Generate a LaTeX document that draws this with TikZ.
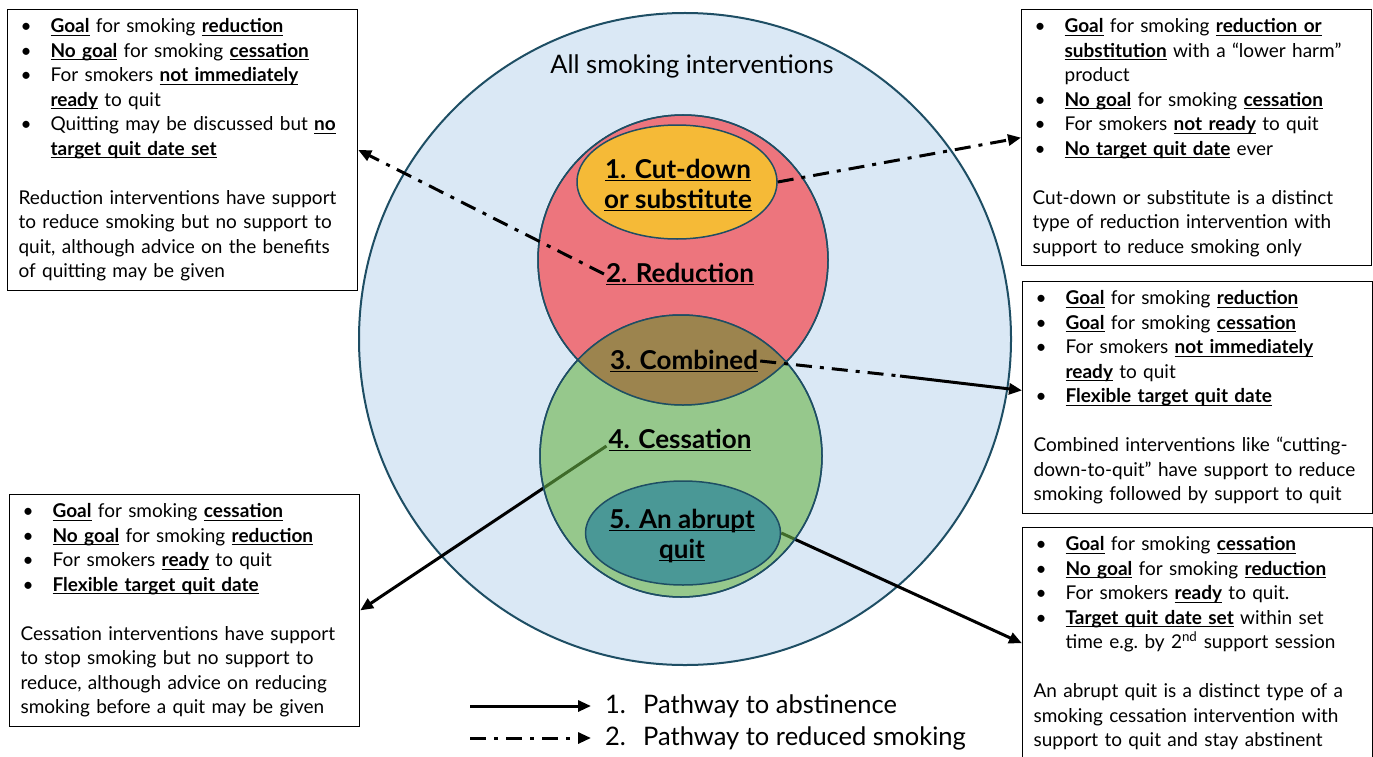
\documentclass[tikz,border=0pt]{standalone}
\usepackage{fontspec}
\setmainfont{Lato}
\usepackage{tikz}
\usetikzlibrary{arrows.meta,shapes.geometric}

\definecolor{allblue}{RGB}{218,232,245}
\definecolor{ringline}{RGB}{30,78,100}
\definecolor{redfill}{RGB}{237,117,125}
\definecolor{cutfill}{RGB}{245,186,55}
\definecolor{cessfill}{RGB}{105,179,70}
\definecolor{combfill}{RGB}{156,132,78}
\definecolor{quitfill}{RGB}{74,152,150}

\newsavebox{\keybox}
\newcommand{\keyline}[1]{\sbox\keybox{#1}\rlap{\rule[-3bp]{\wd\keybox}{1.2bp}}\usebox\keybox}
\newcommand{\key}[1]{\keyline{\bfseries #1}}
\newcommand{\boxfont}{\fontsize{19bp}{24.5bp}\selectfont}
\newcommand{\ringfont}{\fontsize{26bp}{30bp}\selectfont\bfseries}
\newcommand{\legfont}{\fontsize{25.5bp}{30bp}\selectfont}
\newcommand{\bul}{\makebox[32bp][l]{\hspace{2bp}\textbullet}}
\newcommand{\cont}{\hspace*{32bp}}

\pgfdeclarelayer{back}
\pgfdeclarelayer{under}
\pgfsetlayers{back,under,main}

\begin{document}
\begin{tikzpicture}[
    x=1bp, y=-1bp,
    ring/.style={circle, draw=ringline, line width=1.5bp, inner sep=0pt},
    blob/.style={ellipse, draw=ringline, line width=1.5bp, inner sep=0pt},
    tag/.style={font=\ringfont, inner sep=2bp, align=center},
    infobox/.style={draw, line width=1.2bp, fill=white, anchor=north west,
        align=left, inner xsep=11bp, inner ysep=9bp, font=\boxfont, text width=328bp},
    solidpath/.style={line width=3bp},
    dashpath/.style={solidpath, dash pattern=on 16bp off 8bp on 4bp off 8bp},
    tip/.style={-{Triangle[length=13bp, width=11bp]}},
    legtext/.style={anchor=west, font=\legfont, inner sep=0pt}
  ]
  \useasboundingbox (0,0) rectangle (1373,756);

  % Circles
  \begin{pgfonlayer}{back}
    \node[ring, fill=allblue, minimum size=652bp, line width=2bp] (allc) at (685,339) {};
    \node[ring, fill=redfill, minimum size=290bp] (redc) at (683,260) {};
  \end{pgfonlayer}
  \node[ring, fill=cessfill, fill opacity=0.6, minimum size=282bp] (cessc) at (681,456) {};

  % Overlap of reduction and cessation
  \begin{scope}
    \clip (cessc.center) circle[radius=141bp];
    \fill[combfill] (redc.center) circle[radius=145bp];
  \end{scope}
  \draw[ringline, line width=1.5bp] (redc.center) circle[radius=145bp]
    (cessc.center) circle[radius=141bp];

  % Inner types
  \node[blob, fill=cutfill, minimum width=200bp, minimum height=114bp] (cut) at (677,182) {};
  \node[blob, fill=quitfill, minimum width=195bp, minimum height=104bp] (quit) at (683,533) {};

  % Labels
  \node[font=\fontsize{25.5bp}{30bp}\selectfont] (alltitle) at (692,66) {All smoking interventions};
  \node[tag] (cutlbl) at (678,185) {\key{1. Cut-down}\\\key{or substitute}};
  \node[tag] (redlbl) at (680,274) {\key{2. Reduction}};
  \node[tag] (comblbl) at (684,361) {\key{3. Combined}};
  \node[tag] (cesslbl) at (680,440) {\key{4. Cessation}};
  \node[tag] (quitlbl) at (682,536) {\key{5. An abrupt}\\\key{quit}};

  % Description boxes
  \node[infobox] (boxA) at (7,9) {%
    \bul\key{Goal} for smoking \key{reduction}\\
    \bul\key{No goal} for smoking \key{cessation}\\
    \bul For smokers \key{not immediately}\\
    \cont\key{ready} to quit\\
    \bul Quitting may be discussed but \key{no}\\
    \cont\key{target quit date set}\\[24.5bp]
    Reduction interventions have support\\
    to reduce smoking but no support to\\
    quit, although advice on the benefits\\
    of quitting may be given};

  \node[infobox] (boxB) at (1021,9) {%
    \bul\key{Goal} for smoking \key{reduction or}\\
    \cont\key{substitution} with a “lower harm”\\
    \cont product\\
    \bul\key{No goal} for smoking \key{cessation}\\
    \bul For smokers \key{not ready} to quit\\
    \bul\key{No target quit date} ever\\[24.5bp]
    Cut-down or substitute is a distinct\\
    type of reduction intervention with\\
    support to reduce smoking only};

  \node[infobox] (boxC) at (1022,281) {%
    \bul\key{Goal} for smoking \key{reduction}\\
    \bul\key{Goal} for smoking \key{cessation}\\
    \bul For smokers \key{not immediately}\\
    \cont\key{ready} to quit\\
    \bul\key{Flexible target quit date}\\[24.5bp]
    Combined interventions like “cutting-\\
    down-to-quit” have support to reduce\\
    smoking followed by support to quit};

  \node[infobox] (boxD) at (9,494) {%
    \bul\key{Goal} for smoking \key{cessation}\\
    \bul\key{No goal} for smoking \key{reduction}\\
    \bul For smokers \key{ready} to quit\\
    \bul\key{Flexible target quit date}\\[24.5bp]
    Cessation interventions have support\\
    to stop smoking but no support to\\
    reduce, although advice on reducing\\
    smoking before a quit may be given};

  \node[infobox] (boxE) at (1022,527) {%
    \bul\key{Goal} for smoking \key{cessation}\\
    \bul\key{No goal} for smoking \key{reduction}\\
    \bul For smokers \key{ready} to quit.\\
    \bul\key{Target quit date set} within set\\
    \cont time e.g.\ by 2\textsuperscript{nd} support session\\[24.5bp]
    An abrupt quit is a distinct type of a\\
    smoking cessation intervention with\\
    support to quit and stay abstinent};

  % Pathways
  \draw[dashpath, tip] (cut.east) -- (boxB.west);
  \draw[dashpath, tip] (redlbl.west) -- (boxA.east);
  \coordinate (switch) at (900,376);
  \draw[dashpath] (comblbl.east) -- (switch);
  \draw[solidpath, tip] (switch) -- ([yshift=7bp]boxC.west);
  \begin{pgfonlayer}{under}
    \draw[solidpath, tip] ([yshift=-6bp]cesslbl.west) -- (boxD.east);
    \draw[solidpath, tip] (quit.east) -- (boxE.west);
  \end{pgfonlayer}

  % Legend
  \node[legtext] (leg1) at (605,706) {\makebox[38bp][l]{1.}Pathway to abstinence};
  \node[legtext] (leg2) at (605,738) {\makebox[38bp][l]{2.}Pathway to reduced smoking};
  \coordinate (leg1tail) at (470,706);
  \coordinate (leg2tail) at (470,738);
  \draw[solidpath, tip] (leg1tail) -- ([xshift=-14bp]leg1.west);
  \draw[dashpath, tip] (leg2tail) -- ([xshift=-14bp]leg2.west);
\end{tikzpicture}
\end{document}
